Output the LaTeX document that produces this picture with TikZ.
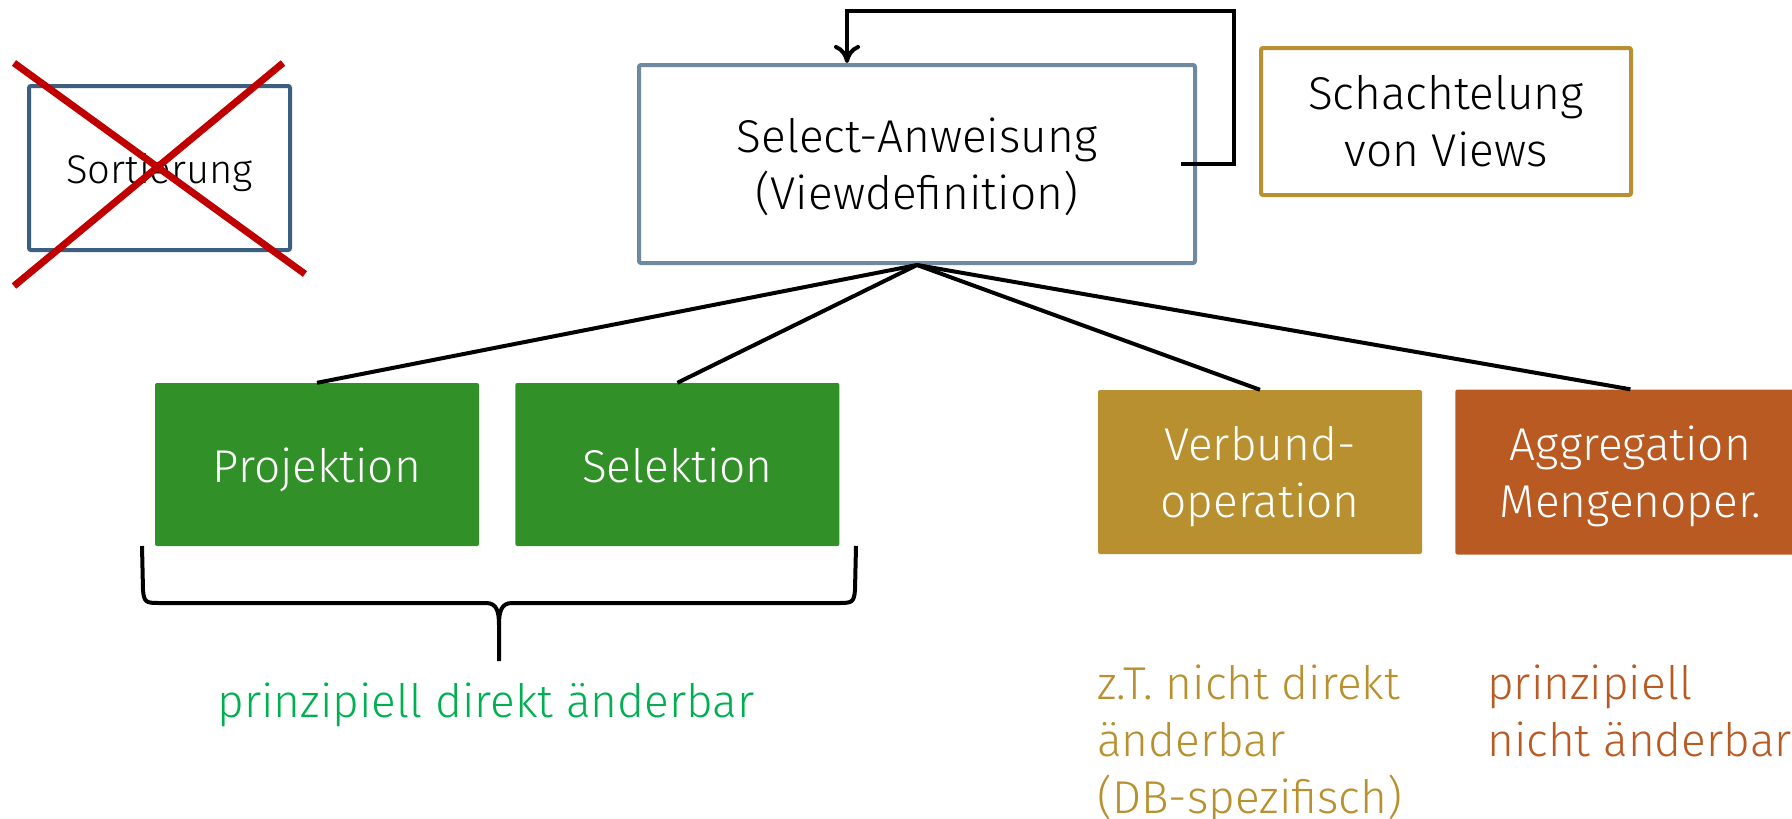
\documentclass[tikz,border=0pt]{standalone}
\usepackage{fontspec}
\setmainfont{Fira Sans Light}
\usepackage{tikz}
\usetikzlibrary{arrows.meta,positioning}
\definecolor{vwsortblue}{RGB}{58,95,128}
\definecolor{vwgrayblue}{RGB}{111,138,160}
\definecolor{vwgold}{RGB}{185,144,47}
\definecolor{vwgreen}{RGB}{49,144,40}
\definecolor{vwlightgreen}{RGB}{0,176,80}
\definecolor{vworange}{RGB}{185,90,35}
\definecolor{vwred}{RGB}{192,0,0}
\tikzstyle{frame} = [rectangle, rounded corners=2pt, draw, line width=4pt, fill=white, align=center, font=\fontsize{46}{57}\selectfont]
\tikzstyle{op} = [rectangle, rounded corners=2pt, minimum width=324pt, minimum height=163pt, align=center, text=white, font=\fontsize{46}{57}\selectfont]
\tikzstyle{oneline} = [text height=35pt, text depth=0pt]
\tikzstyle{twolines} = [text height=102pt, text depth=12pt]
\tikzstyle{link} = [line width=4pt, black]
\tikzstyle{note} = [align=left, inner sep=0pt, font=\fontsize{46}{57}\selectfont]

\begin{document}
\begin{tikzpicture}[x=1pt, y=-1pt]
\useasboundingbox (0,0) rectangle (1792,819);
% View definition
\node (select) [frame, twolines, draw=vwgrayblue, minimum width=556pt, minimum height=198pt] at (917,164) {Select-Anweisung\\(Viewdefinition)};
\node (nest) [frame, twolines, draw=vwgold, minimum width=370pt, minimum height=147pt] at (1446,121.5) {Schachtelung\\von Views};
\coordinate (loopturn) at (847,11);
\draw[link, -{To[length=18pt,width=26pt]}] ([xshift=-16pt]select.east) -- ++(53,0) |- (loopturn) -- (loopturn |- select.north);
% Sortierung, crossed out
\node (sort) [frame, draw=vwsortblue, minimum width=261pt, minimum height=164pt, font=\fontsize{40}{48}\selectfont, text height=30pt, text depth=0pt] at (159.5,168) {Sortierung};
\draw[vwred, line width=7pt] (14,63) -- (305,274);
\draw[vwred, line width=7pt] (283,63) -- (14,286);
% Operations
\node (proj) [op, oneline, fill=vwgreen] at (317,464.5) {Projektion};
\node (sel) [op, oneline, fill=vwgreen, right=36pt of proj] {Selektion};
\node (join) [op, twolines, fill=vwgold, minimum height=164pt] at (1260,472) {Verbund-\\operation};
\node (agg) [op, twolines, fill=vworange, minimum width=350pt, minimum height=165pt, right=33pt of join] {Aggregation\\Mengenoper.};
\foreach \n in {proj,sel,join,agg}
  \draw[link] (select.south) -- (\n.north);
% Brace
\draw[link] (142,546) -- (143,590) .. controls (144,602) and (146,603) .. (158,603) -- (486,603) .. controls (497,603) and (499,612) .. (499,625) -- (499,661);
\draw[link] (499,625) .. controls (499,612) and (501,603) .. (512,603) -- (840,603) .. controls (852,603) and (854,602) .. (855,590) -- (856,546);
% Notes
\node (directnote) [font=\fontsize{46}{57}\selectfont, text=vwlightgreen, anchor=base] at (486,717) {prinzipiell direkt änderbar};
\node (joinnote) [note, text=vwgold, anchor=north west] at (1097,665) {z.T. nicht direkt\\änderbar\\(DB-spezifisch)};
\node (aggnote) [note, text=vworange, anchor=north west] at (1487,665) {prinzipiell\\nicht änderbar};
\end{tikzpicture}
\end{document}
